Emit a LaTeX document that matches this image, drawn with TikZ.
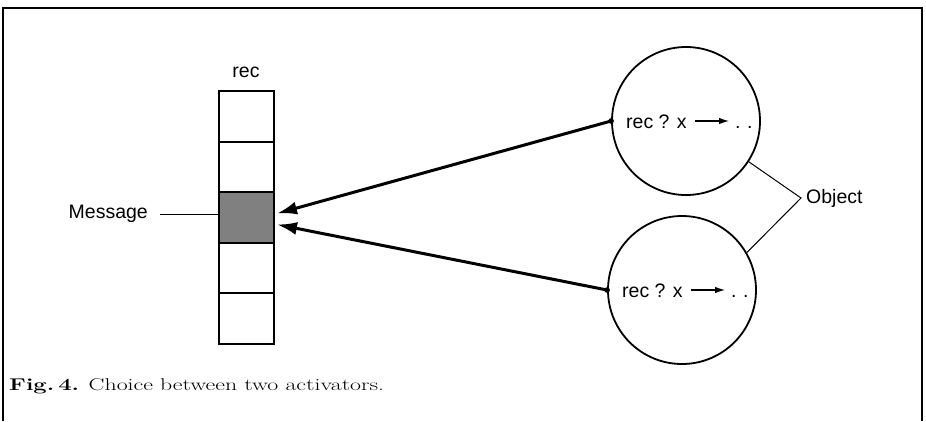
\documentclass[tikz,border=0pt]{standalone}
\usepackage{fontspec}
\newfontfamily\helv{Liberation Sans}
\usetikzlibrary{arrows.meta,calc}
\begin{document}
\begin{tikzpicture}[x=1pt,y=-1pt,
  lbl/.style={font=\helv\fontsize{19.5}{22}\selectfont, inner sep=0pt},
  cell/.style={draw, line width=2pt, minimum width=55pt, minimum height=50.6pt, inner sep=0pt, anchor=north west},
  obj/.style={draw, circle, line width=1.8pt, minimum size=148pt, inner sep=0pt},
  bigarrow/.style={line width=3pt, -{Latex[length=20pt,width=13pt]}},
  smallarrow/.style={line width=1.1pt, -{Latex[length=10pt,width=6.5pt]}},
  thinline/.style={line width=1pt}]
\useasboundingbox (0,0) rectangle (926,421);
\draw[line width=1.4pt] (3,421) -- (3,8) -- (922,8) -- (922,421);
% stack
\node[cell] (s1) at (218,90) {};
\node[cell] (s2) at (218,140.6) {};
\node[cell, fill=black!50] (s3) at (218,191.2) {};
\node[cell] (s4) at (218,241.8) {};
\node[cell] (s5) at (218,292.4) {};
\node[lbl] (rl) at (246,72) {rec};
% message
\node[lbl, anchor=east] (msg) at (148,214) {Message};
\draw[thinline] ($(msg.east)+(12,0)$) -- (msg.east -| s3.west);
% objects
\node[obj] (c1) at (686,121) {};
\node[obj] (c2) at (682,290) {};
\node[lbl, anchor=base west] (t1) at (626,128) {rec ? x};
\coordinate (a1) at (695,121);
\coordinate (b1) at (729,121);
\draw[smallarrow] (a1) -- (b1);
\node[lbl, anchor=base west] (d1) at (735,128) {.\,\,.};
\node[lbl, anchor=base west] (t2) at (622,297) {rec ? x};
\coordinate (a2) at (691,290);
\coordinate (b2) at (725,290);
\draw[smallarrow] (a2) -- (b2);
\node[lbl, anchor=base west] (d2) at (731,297) {.\,\,.};
% arrows
\fill (c1.west) circle (2.8pt);
\fill (c2.west) circle (2.8pt);
\draw[bigarrow] (c1.west) -- ($(s3.east)+(2,-4)$);
\draw[bigarrow] (c2.west) -- ($(s3.east)+(2,7)$);
% object label
\node[lbl, anchor=west] (objl) at (806,198) {Object};
\coordinate (oj) at (801,198);
\draw[thinline] (c1.-33) -- (oj) -- (c2.30);
% caption
\node[anchor=base west, inner sep=0pt] (cap) at (9,390) {\scalebox{1.4}[1]{\fontsize{17}{20}\selectfont\textbf{Fig.\,4.} Choice between two activators.}};
\end{tikzpicture}
\end{document}
